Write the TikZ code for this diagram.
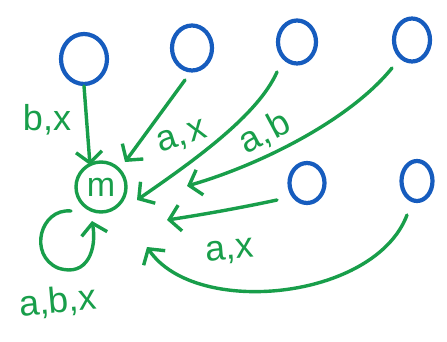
\documentclass[tikz,border=0pt]{standalone}
\usepackage{fontspec}
\setmainfont{Liberation Sans}
\usetikzlibrary{arrows.meta,calc,shapes.geometric}
\definecolor{pgreen}{RGB}{24,158,74}
\definecolor{pblue}{RGB}{22,92,190}
\begin{document}
\begin{tikzpicture}[x=1pt,y=-1pt,
  bc/.style={ellipse,draw=pblue,line width=4.2pt,inner sep=0pt},
  mn/.style={circle,draw=pgreen,line width=3.4pt,minimum size=50pt,inner sep=0pt,text=pgreen,font=\fontsize{34}{36}\selectfont},
  ed/.style={draw=pgreen,line width=3.4pt,line cap=round,line join=round,-{Straight Barb[length=11pt,width=26pt]}},
  lb/.style={text=pgreen,font=\fontsize{36}{38}\selectfont,inner sep=0pt}]
\useasboundingbox[fill=white] (0,0) rectangle (447,342);
\node[bc,minimum width=46pt,minimum height=50pt] (c1) at (84,59) {};
\node[bc,minimum width=40pt,minimum height=45pt] (c2) at (192,48) {};
\node[bc,minimum width=38pt,minimum height=43pt] (c3) at (297,42) {};
\node[bc,minimum width=36pt,minimum height=43pt] (c4) at (412,40) {};
\node[bc,minimum width=35pt,minimum height=40pt] (c5) at (307,183) {};
\node[bc,minimum width=31pt,minimum height=40pt] (c6) at (417,181) {};
\node[mn] (m) at (101,187) {m};
\draw[ed] ($(c1)+(0,27)$) -- ($(m)+(-11,-22)$);
\draw[ed] ($(c2)+(-7,32)$) -- ($(m)+(24,-25)$);
\draw[ed] ($(c3)+(-20,30)$) .. controls (258,115) and (195,160) .. ($(m)+(36,13)$);
\draw[ed] ($(c4)+(-20,28)$) .. controls (350,120) and (260,165) .. ($(m)+(86,-1)$);
\draw[ed] ($(c5)+(-30,17)$) .. controls (240,208) and (200,215) .. ($(m)+(66,33)$);
\draw[ed] ($(c6)+(-10,34)$) .. controls (375,300) and (195,318) .. ($(m)+(46,60)$);
\draw[ed] ($(m)+(-30,24)$) .. controls (40,208) and (28,255) .. (58,268) .. controls (88,278) and (97,248) .. ($(m)+(-9,34)$);
\node[lb] (l1) at (47,120) {b,x};
\node[lb,rotate=18] (l2) at (182,138) {a,\kern3pt x};
\node[lb,rotate=28] (l3) at (265,133) {a,\kern3pt b};
\node[lb,rotate=5] (l4) at (230,252) {a,x};
\node[lb,rotate=5] (l5) at (58,302) {a,b,x};
\end{tikzpicture}
\end{document}
